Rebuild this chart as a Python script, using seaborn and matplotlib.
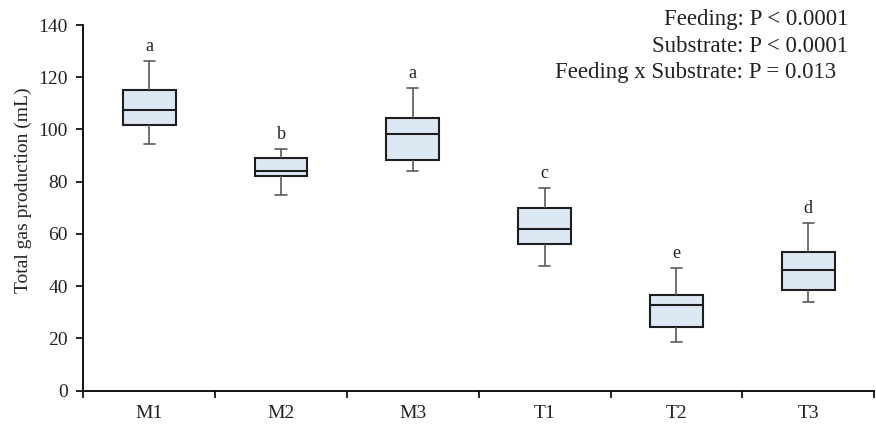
import numpy as np
import pandas as pd
import matplotlib.pyplot as plt
import seaborn as sns

groups = ["M1", "M2", "M3", "T1", "T2", "T3"]
# five-number summary: whisker low, Q1, median, Q3, whisker high
w_low = [94.5, 74.8, 84.0, 47.6, 18.6, 34.0]
q1 = [101.8, 82.1, 88.2, 56.3, 24.3, 38.5]
median = [107.5, 84.0, 98.2, 61.8, 32.9, 46.3]
q3 = [115.0, 88.9, 104.5, 69.8, 36.4, 53.1]
w_high = [126.1, 92.6, 116.0, 77.6, 47.0, 64.2]
letters = ["a", "b", "a", "c", "e", "d"]
p_lines = ["Feeding: P < 0.0001", "Substrate: P < 0.0001", "Feeding x Substrate: P = 0.013"]

# long form: five values per group give exactly those quartiles
rows = []
for i, g in enumerate(groups):
    for v in (w_low[i], q1[i], median[i], q3[i], w_high[i]):
        rows.append({"group": g, "value": v})
df = pd.DataFrame(rows)

sns.set_theme(style="white")
plt.rcParams["font.family"] = ["Liberation Serif", "DejaVu Serif"]

fig = plt.figure(figsize=(8.76, 4.24), dpi=100)
ax = fig.add_axes([0.095, 0.079, 0.903, 0.862])

sns.boxplot(data=df, x="group", y="value", order=groups, ax=ax,
            whis=(0, 100), width=0.4, color="#dde8f5", saturation=1,
            fliersize=0, linewidth=1.5,
            boxprops=dict(edgecolor="#1e1e1e"),
            medianprops=dict(color="#1e1e1e", linewidth=1.5),
            whiskerprops=dict(color="#5a5a5a", linewidth=1.2),
            capprops=dict(color="#5a5a5a", linewidth=1.2))

# make the caps short
for ln in ax.lines:
    x = np.asarray(ln.get_xdata(), dtype=float)
    y = np.asarray(ln.get_ydata(), dtype=float)
    if len(x) == 2 and y[0] == y[1] and abs(abs(x[1] - x[0]) - 0.2) < 1e-6:
        c = x.mean()
        ln.set_xdata([c - 0.042, c + 0.042])

for i, lab in enumerate(letters):
    ax.text(i, w_high[i] + 5.5, lab, ha="center", va="center", fontsize=13, color="#222222")

ax.set_ylim(0, 140)
ax.set_yticks(np.arange(0, 141, 20))
ax.set_xlim(-0.5, len(groups) - 0.5)
ax.set_xticks(np.arange(-0.5, len(groups), 1.0))
ax.set_xticklabels([])
ax.set_xticks(range(len(groups)), minor=True)
ax.set_xticklabels(groups, minor=True)
ax.tick_params(axis="x", which="major", direction="out", length=5, width=1.2, color="black", bottom=True)
ax.tick_params(axis="x", which="minor", length=0, labelsize=14, pad=10.5, colors="#222222")
ax.tick_params(axis="y", direction="out", length=5, width=1.2, color="black", left=True,
               labelsize=14, pad=6, colors="#222222")
ax.set_xlabel("")
ax.set_ylabel("Total gas production (mL)", fontsize=14, color="#222222")
ax.yaxis.set_label_coords(-0.0645, 0.549)

for s in ("top", "right"):
    ax.spines[s].set_visible(False)
for s in ("left", "bottom"):
    ax.spines[s].set_color("black")
    ax.spines[s].set_linewidth(1.3)

fig.text(848 / 876, 1 - 25 / 424, p_lines[0], ha="right", va="baseline", fontsize=16.5, color="#222222")
fig.text(848 / 876, 1 - 52 / 424, p_lines[1], ha="right", va="baseline", fontsize=16.5, color="#222222")
fig.text(836 / 876, 1 - 78 / 424, p_lines[2], ha="right", va="baseline", fontsize=16.5, color="#222222")

fig.savefig("out.png", dpi=100)
